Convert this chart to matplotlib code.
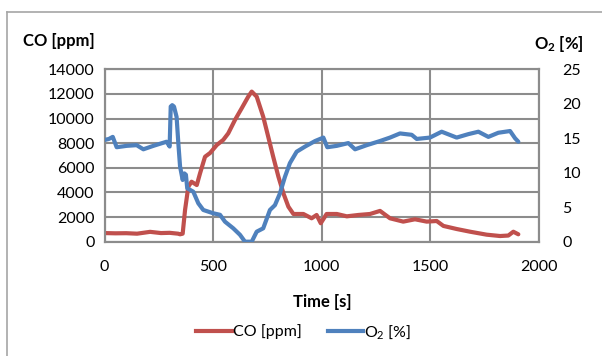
import matplotlib
matplotlib.use("Agg")
import matplotlib.pyplot as plt
from matplotlib.lines import Line2D

plt.rcParams['font.family'] = ['Lato', 'DejaVu Sans']

# CO concentration over time
co_time = [0, 50, 100, 150, 210, 260, 300, 339, 348, 360, 371, 386, 401, 425,
           440, 463, 486, 517, 547, 570, 601, 632, 662, 678, 701, 731, 754,
           777, 801, 824, 847, 870, 916, 954, 977, 996, 1023, 1070, 1116,
           1169, 1223, 1269, 1315, 1376, 1430, 1484, 1530, 1561, 1622, 1684,
           1760, 1822, 1860, 1883, 1906]
co_ppm = [700, 680, 690, 650, 800, 700, 720, 650, 600, 650, 2580, 4470, 4870,
          4600, 5550, 6900, 7200, 7850, 8270, 8800, 9890, 10840, 11780, 12190,
          11780, 10150, 8530, 6900, 5280, 3930, 2840, 2250, 2250, 1900, 2170,
          1500, 2250, 2250, 2060, 2170, 2250, 2500, 1900, 1630, 1820, 1630,
          1680, 1280, 1030, 810, 570, 460, 500, 810, 600]

# O2 concentration over time
o2_time = [0, 20, 38, 56, 102, 148, 179, 225, 286, 300, 305, 312, 320, 332,
           340, 348, 360, 368, 375, 381, 409, 432, 455, 501, 532, 555, 593,
           624, 647, 678, 701, 731, 762, 785, 808, 831, 854, 885, 924, 970,
           1008, 1026, 1070, 1123, 1154, 1208, 1269, 1315, 1361, 1415, 1438,
           1499, 1553, 1622, 1676, 1722, 1768, 1814, 1868, 1891, 1906]
o2_pct = [14.75, 14.9, 15.2, 13.7, 13.9, 14.0, 13.4, 13.9, 14.5, 13.8, 19.6,
          19.8, 19.6, 18.1, 14.3, 10.9, 8.95, 9.9, 9.7, 7.75, 7.25, 5.57, 4.6,
          4.12, 3.9, 2.9, 1.94, 1.0, 0.0, 0.0, 1.45, 1.94, 4.6, 5.3, 7.0, 9.4,
          11.4, 13.05, 13.8, 14.6, 15.1, 13.7, 13.9, 14.3, 13.4, 14.0, 14.6,
          15.1, 15.7, 15.5, 14.9, 15.1, 15.95, 15.1, 15.6, 15.95, 15.2, 15.8,
          16.05, 15.0, 14.5]

x_ticks = [0, 500, 1000, 1500, 2000]
co_ticks = [0, 2000, 4000, 6000, 8000, 10000, 12000, 14000]
o2_ticks = [0, 5, 10, 15, 20, 25]

red = '#C0504D'
blue = '#4F81BD'
grid_col = '#8C8C8C'

fig = plt.figure(figsize=(6.02, 3.56), dpi=100)
ax = fig.add_axes([0.1736, 0.3211, 0.7213, 0.4842])
ax2 = ax.twinx()

ax.plot(co_time, co_ppm, color=red, lw=3, solid_capstyle='round',
        solid_joinstyle='round', zorder=3)
ax2.plot(o2_time, o2_pct, color=blue, lw=3, solid_capstyle='round',
         solid_joinstyle='round', zorder=3)

ax.set_xlim(0, 2000)
ax.set_ylim(0, 14000)
ax2.set_ylim(0, 25)
ax.set_xticks(x_ticks)
ax.set_yticks(co_ticks)
ax2.set_yticks(o2_ticks)
ax.grid(True, color=grid_col, lw=1.5)
ax.set_axisbelow(True)

for a in (ax, ax2):
    a.tick_params(length=0, labelsize=11.5, colors='black')
    for s in a.spines.values():
        s.set_color(grid_col)
        s.set_linewidth(1.5)
ax.tick_params(axis='y', pad=7)
ax.tick_params(axis='x', pad=13)
ax2.tick_params(axis='y', pad=17)

fig.text(0.038, 0.885, 'CO [ppm]', fontsize=12, fontweight='bold',
         ha='left', va='center')
fig.text(0.970, 0.876, r'$\mathregular{O_2}$ [%]', fontsize=12,
         fontweight='bold', ha='right', va='center')
fig.text(0.535, 0.152, 'Time [s]', fontsize=12, fontweight='bold',
         ha='center', va='center')

handles = [Line2D([], [], color=red, lw=3), Line2D([], [], color=blue, lw=3)]
fig.legend(handles, ['CO [ppm]', r'$\mathregular{O_2}$ [%]'], ncol=2,
           loc='center', bbox_to_anchor=(0.505, 0.068), frameon=False,
           fontsize=11.5, handlelength=2.2, handletextpad=0.1,
           columnspacing=1.6)

# chart-area border (top and left edges visible)
fig.add_artist(Line2D([7 / 602, 1.0], [1 - 12 / 356, 1 - 12 / 356],
                      transform=fig.transFigure, color='#A6A6A6', lw=1.2))
fig.add_artist(Line2D([7 / 602, 7 / 602], [0.0, 1 - 12 / 356],
                      transform=fig.transFigure, color='#A6A6A6', lw=1.2))

fig.savefig('out.png', dpi=100)
